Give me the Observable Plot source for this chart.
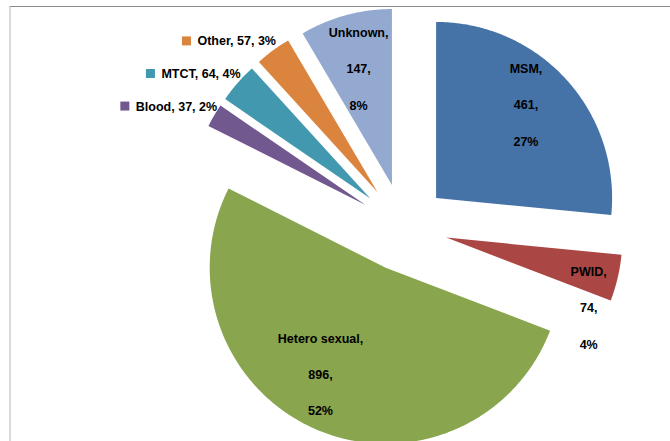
<!DOCTYPE html>
<html>
<head>
<meta charset="utf-8">
<script src="https://cdn.jsdelivr.net/npm/d3@7"></script>
<script src="https://cdn.jsdelivr.net/npm/@observablehq/plot@0.6"></script>
<style>
  html, body { margin: 0; padding: 0; background: #fff; overflow: hidden; }
  #wrap { position: relative; width: 670px; height: 441px; }
  #frame { position: absolute; left: 9px; top: 6px; width: 700px; height: 500px;
           border-top: 1px solid #8c8c8c; border-left: 2px solid #d9d9d9; box-sizing: border-box; }
  #chart { position: absolute; left: 0; top: 0; }
</style>
</head>
<body>
<div id="wrap"><div id="frame"></div><div id="chart"></div></div>
<script>
// ---- data ----
const categories = ["MSM", "PWID", "Hetero sexual", "Blood", "MTCT", "Other", "Unknown"];
const cases = [461, 74, 896, 37, 64, 57, 147];
const colors = ["#4572A7", "#AA4643", "#89A54E", "#71588F", "#4198AF", "#DB843D", "#93A9CF"];
const outsideLabels = ["Blood", "MTCT", "Other"];

// ---- layout ----
const W = 670, H = 441;
const cx = 403, cy = 227, R = 176, explode = 44;
const font = "bold 12.5px 'Liberation Sans', Arial, sans-serif";

const total = d3.sum(cases);
const rows = categories.map((c, i) => ({cat: c, value: cases[i], pct: Math.round(cases[i] / total * 100) + "%"}));
const arcs = d3.pie().sort(null).value(d => d.value)(rows);

const polys = [];
const slices = arcs.map(a => {
  const mid = (a.startAngle + a.endAngle) / 2;
  const ux = Math.sin(mid), uy = -Math.cos(mid);
  const ax = cx + explode * ux, ay = cy + explode * uy;
  polys.push({cat: a.data.cat, x: ax, y: ay});
  const n = Math.max(8, Math.ceil((a.endAngle - a.startAngle) * 120));
  for (let k = 0; k <= n; k++) {
    const t = a.startAngle + (a.endAngle - a.startAngle) * k / n;
    polys.push({cat: a.data.cat, x: ax + R * Math.sin(t), y: ay - R * Math.cos(t)});
  }
  return {...a.data, mid, ux, uy, ax, ay, ox: ax + R * ux, oy: ay + R * uy};
});

// inside labels: along mid-angle at 72% of the radius, with Excel's best-fit nudges
const nudge = {"MSM": [-4, -15], "PWID": [19, 34], "Hetero sexual": [-14, -16], "Unknown": [0, -1]};
const inside = slices.filter(s => !outsideLabels.includes(s.cat)).map(s => {
  const [dx, dy] = nudge[s.cat] || [0, 0];
  return {text: `${s.cat},\n${s.value},\n${s.pct}`, x: s.ax + 0.72 * R * s.ux + dx, y: s.ay + 0.72 * R * s.uy + dy};
});

// outside labels with legend key
const ctx = document.createElement("canvas").getContext("2d");
ctx.font = font;
const outside = slices.filter(s => outsideLabels.includes(s.cat)).map(s => {
  const text = `${s.cat}, ${s.value}, ${s.pct}`;
  const w = ctx.measureText(text).width;
  const xEnd = s.ox + 3, y = s.oy - 9;
  return {cat: s.cat, text, xEnd, y, kx1: xEnd - w - 15, kx2: xEnd - w - 6, ky1: y - 4.5, ky2: y + 4.5};
});

const chart = Plot.plot({
  width: W, height: H,
  margin: 0,
  x: {domain: [0, W], range: [0, W], axis: null},
  y: {domain: [0, H], range: [0, H], axis: null},
  color: {domain: categories, range: colors},
  style: {background: "transparent", overflow: "visible"},
  marks: [
    Plot.line(polys, {x: "x", y: "y", z: "cat", fill: "cat", stroke: null, curve: "linear-closed"}),
    Plot.text(inside, {x: "x", y: "y", text: "text", lineHeight: 2.9, fontSize: 12.5, fontWeight: "bold",
      fontFamily: "'Liberation Sans', Arial, sans-serif", fill: "#000"}),
    Plot.rect(outside, {x1: "kx1", x2: "kx2", y1: "ky1", y2: "ky2", fill: "cat"}),
    Plot.text(outside, {x: "xEnd", y: "y", text: "text", textAnchor: "end", fontSize: 12.5, fontWeight: "bold",
      fontFamily: "'Liberation Sans', Arial, sans-serif", fill: "#000"})
  ]
});
document.getElementById("chart").appendChild(chart);
</script>
</body>
</html>
